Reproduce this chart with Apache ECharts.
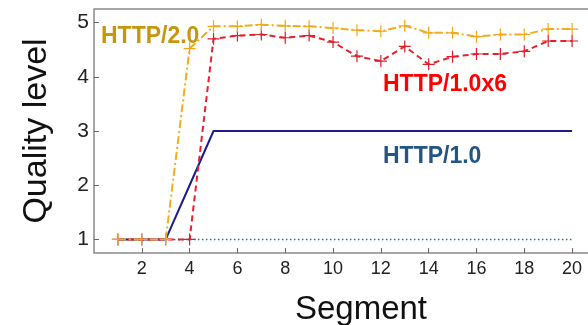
<!DOCTYPE html>
<html>
<head>
<meta charset="utf-8">
<script src="https://cdn.jsdelivr.net/npm/echarts@6/dist/echarts.min.js"></script>
<style>
  html, body { margin: 0; padding: 0; background: #fff; }
  #chart { width: 588px; height: 325px; }
</style>
</head>
<body>
<div id="chart"></div>
<script>
// segments 1..20
var segments = [1, 2, 3, 4, 5, 6, 7, 8, 9, 10, 11, 12, 13, 14, 15, 16, 17, 18, 19, 20];
var http10 = [1, 1, 1, 2, 3, 3, 3, 3, 3, 3, 3, 3, 3, 3, 3, 3, 3, 3, 3, 3];
var http10x6 = [1, 1, 1, 1, 4.70, 4.76, 4.78, 4.72, 4.76, 4.64, 4.38, 4.29, 4.56, 4.23, 4.37, 4.42, 4.42, 4.47, 4.66, 4.66];
var http20 = [1, 1, 1, 4.52, 4.93, 4.93, 4.96, 4.94, 4.93, 4.90, 4.86, 4.84, 4.94, 4.81, 4.81, 4.74, 4.78, 4.78, 4.88, 4.88];
var baseline = [1, 1, 1, 1, 1, 1, 1, 1, 1, 1, 1, 1, 1, 1, 1, 1, 1, 1, 1, 1];
var xTicks = [2, 4, 6, 8, 10, 12, 14, 16, 18, 20];
var yTicks = [1, 2, 3, 4, 5];

function pairs(vals) {
  return segments.map(function (s, i) { return [s, vals[i]]; });
}

var plus = "path://M9,0h2v9h9v2h-9v9h-2v-9h-9v-2h9z";
var font = "Liberation Sans, Arial, sans-serif";

var chart = echarts.init(document.getElementById("chart"));
chart.setOption({
  animation: false,
  grid: {
    left: 94,
    top: 9,
    right: -8,
    bottom: 72,
    outerBoundsMode: "none",
    containLabel: false,
    show: true,
    borderColor: "#8a8a8a",
    borderWidth: 1.5
  },
  xAxis: {
    type: "value",
    min: 0,
    max: 21,
    name: "Segment",
    nameLocation: "middle",
    nameGap: 40,
    nameTextStyle: { fontSize: 33, color: "#111", fontFamily: font, padding: [0, 0, 0, 32] },
    axisLine: { show: false },
    axisTick: { inside: true, length: 5, customValues: xTicks, lineStyle: { color: "#666" } },
    axisLabel: { customValues: xTicks, fontSize: 18, color: "#222", fontFamily: font, margin: 7 },
    splitLine: { show: false }
  },
  yAxis: {
    type: "value",
    min: 0.75,
    max: 5.25,
    name: "Quality level",
    nameLocation: "middle",
    nameGap: 40,
    nameTextStyle: { fontSize: 34, color: "#111", fontFamily: font },
    axisLine: { show: false },
    axisTick: { inside: true, length: 5, customValues: yTicks, lineStyle: { color: "#666" } },
    axisLabel: { customValues: yTicks, fontSize: 21, color: "#222", fontFamily: font, margin: 5 },
    splitLine: { show: false }
  },
  series: [
    {
      name: "baseline",
      type: "line",
      data: pairs(baseline),
      showSymbol: false,
      lineStyle: { color: "#2b6a8c", width: 1.5, type: [1.5, 2.5] },
      z: 1
    },
    {
      name: "HTTP/1.0",
      type: "line",
      data: pairs(http10),
      showSymbol: false,
      lineStyle: { color: "#1c1c8a", width: 2 },
      z: 2
    },
    {
      name: "HTTP/1.0x6",
      type: "line",
      data: pairs(http10x6),
      symbol: plus,
      symbolSize: 12,
      itemStyle: { color: "#d81f2c" },
      lineStyle: { color: "#e8202c", width: 2, type: [6, 4] },
      z: 3
    },
    {
      name: "HTTP/2.0",
      type: "line",
      data: pairs(http20),
      symbol: plus,
      symbolSize: 12,
      itemStyle: { color: "#f0a818" },
      lineStyle: { color: "#f3ad1c", width: 2, type: [8, 3, 2, 3] },
      z: 4
    }
  ],
  graphic: [
    {
      type: "text", left: 101, top: 25, z: 10,
      style: { text: "HTTP/2.0", fill: "#c8960c", font: "bold 23px " + font }
    },
    {
      type: "text", left: 383, top: 73, z: 10,
      style: { text: "HTTP/1.0x6", fill: "#ff0000", font: "bold 23px " + font }
    },
    {
      type: "text", left: 383, top: 145, z: 10,
      style: { text: "HTTP/1.0", fill: "#235684", font: "bold 23px " + font }
    }
  ]
});
</script>
</body>
</html>
